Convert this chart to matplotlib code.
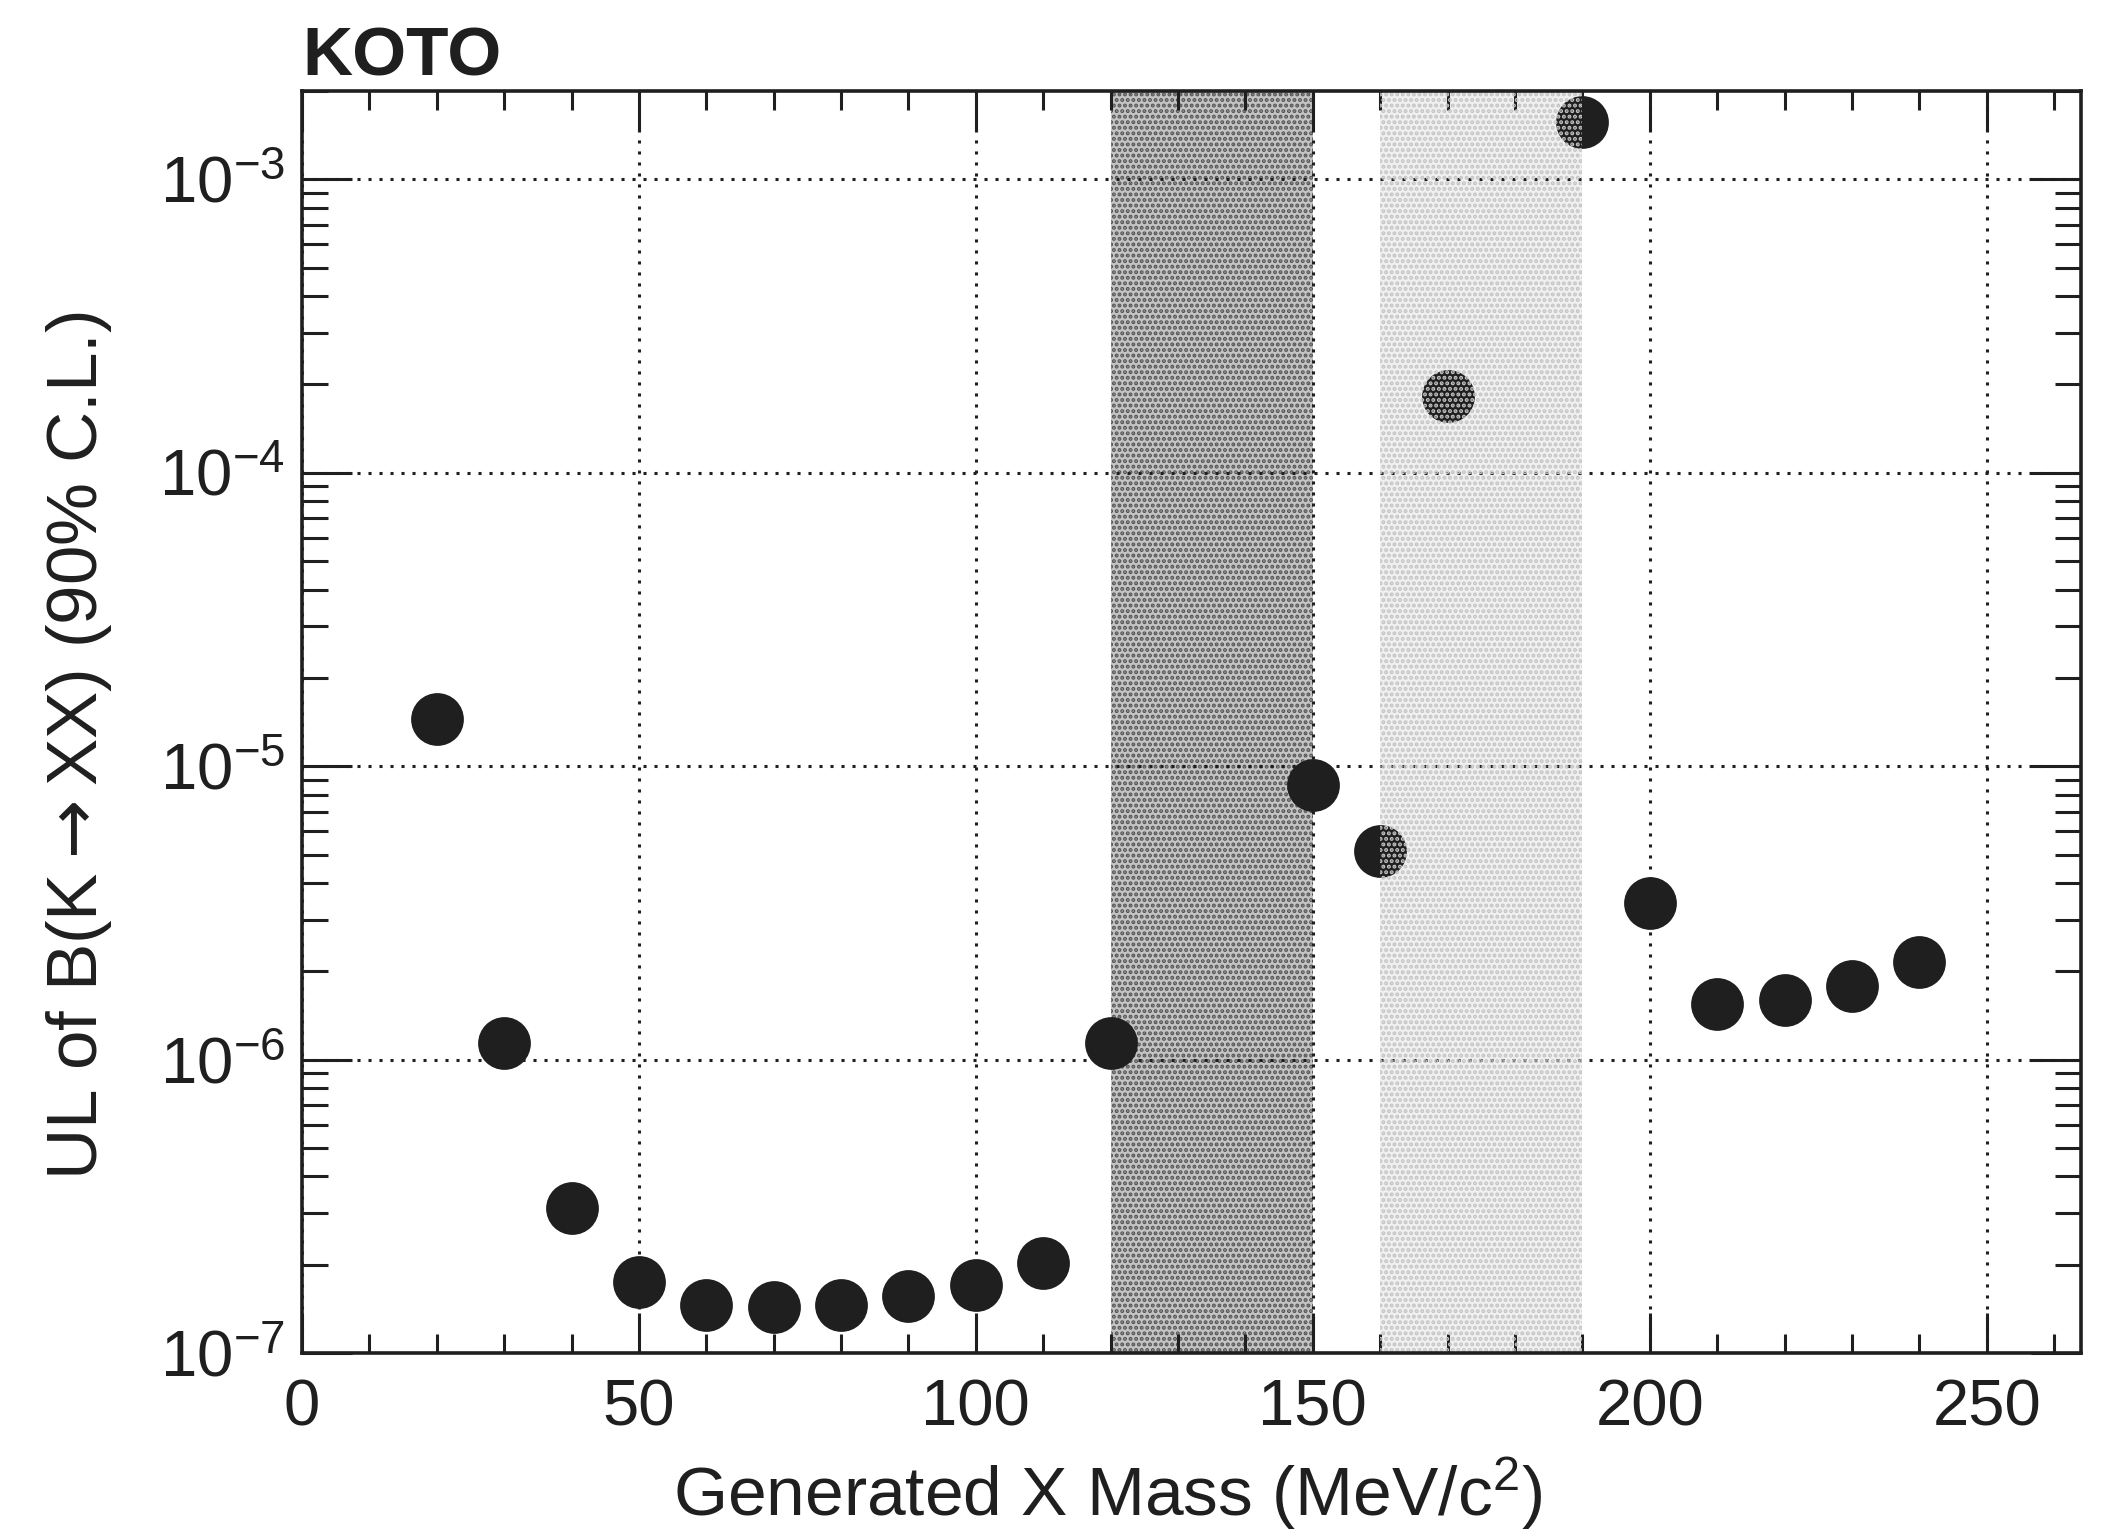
import matplotlib.pyplot as plt
from matplotlib.ticker import FixedLocator, MultipleLocator, LogLocator, NullFormatter

#%% data
mass = [20, 30, 40, 50, 60, 70, 80, 90, 100, 110, 120,
        150, 160, 170, 190, 200, 210, 220, 230, 240]
ul = [1.45e-5, 1.14e-6, 3.12e-7, 1.75e-7, 1.46e-7, 1.43e-7, 1.46e-7, 1.56e-7, 1.71e-7, 2.03e-7, 1.14e-6,
      8.6e-6, 5.15e-6, 1.82e-4, 1.57e-3, 3.41e-6, 1.55e-6, 1.60e-6, 1.78e-6, 2.15e-6]

dark_band = [120, 150]
light_band = [160, 190]

xtick_vals = [0, 50, 100, 150, 200, 250]
xtick_labels = ['0', '50', '100', '150', '200', '250']
ytick_vals = [1e-7, 1e-6, 1e-5, 1e-4, 1e-3]
ytick_labels = ['$10^{-7}$', '$10^{-6}$', '$10^{-5}$', '$10^{-4}$', '$10^{-3}$']

#%% style
plt.rcParams['font.family'] = ['Liberation Sans', 'DejaVu Sans']
plt.rcParams['mathtext.fontset'] = 'custom'
plt.rcParams['mathtext.rm'] = 'Liberation Sans'
plt.rcParams['mathtext.it'] = 'Liberation Sans:italic'
plt.rcParams['mathtext.bf'] = 'Liberation Sans:bold'
plt.rcParams['hatch.linewidth'] = 2.0

ink = '#1f1f1f'

fig = plt.figure(figsize=(21.07, 15.33), dpi=100)
ax = fig.add_axes([0.1433, 0.1174, 0.8444, 0.8232])

# dark band sits under the points
ax.axvspan(dark_band[0], dark_band[1], facecolor='#c4c4c4', edgecolor='#565656',
           hatch='...', linewidth=0, zorder=1)
# light band: tint under the points, dot pattern over them
ax.axvspan(light_band[0], light_band[1], facecolor='#f0f0f0', linewidth=0, zorder=1)

ax.plot(mass, ul, 'o', color=ink, markersize=38, markeredgewidth=0, zorder=3)

ax.axvspan(light_band[0], light_band[1], facecolor='none', edgecolor='#c4c4c4',
           hatch='...', linewidth=0, zorder=4)

ax.set_xlim(0, 264)
ax.set_yscale('log')
ax.set_ylim(1e-7, 2e-3)

ax.xaxis.set_major_locator(FixedLocator(xtick_vals))
ax.set_xticklabels(xtick_labels)
ax.xaxis.set_minor_locator(MultipleLocator(10))
ax.yaxis.set_major_locator(FixedLocator(ytick_vals))
ax.set_yticklabels(ytick_labels)
ax.yaxis.set_minor_locator(LogLocator(base=10, subs=range(2, 10), numticks=20))
ax.yaxis.set_minor_formatter(NullFormatter())

ax.grid(True, which='major', color=ink, linestyle=(0, (1, 2.6)), linewidth=2.2, zorder=2)
ax.set_axisbelow(False)

ax.tick_params(which='both', direction='in', top=True, right=True, width=2.2, color=ink,
               labelsize=47, labelcolor=ink)
ax.tick_params(axis='x', which='major', length=29, pad=18)
ax.tick_params(axis='x', which='minor', length=14)
ax.tick_params(axis='y', which='major', length=36, pad=12)
ax.tick_params(axis='y', which='minor', length=19)
for s in ax.spines.values():
    s.set_linewidth(2.6)
    s.set_color(ink)
    s.set_zorder(5)

fig.text(0.453 * 0.8444 + 0.1433, 1 - 1516 / 1533, 'Generated X Mass (MeV/c$^{2}$)',
         ha='center', va='baseline', fontsize=50, color=ink)
fig.text(44 / 2107, 0.1174 + 0.481 * 0.8232, r'UL of B(K$\rightarrow$XX) (90% C.L.)',
         ha='left', va='center', rotation=90, fontsize=51, color=ink,
         math_fontfamily='dejavusans')
fig.text(302 / 2107, 1 - 75 / 1533, 'KOTO', ha='left', va='baseline',
         fontsize=50, fontweight='bold', color=ink)

fig.savefig('out.png', dpi=100)
